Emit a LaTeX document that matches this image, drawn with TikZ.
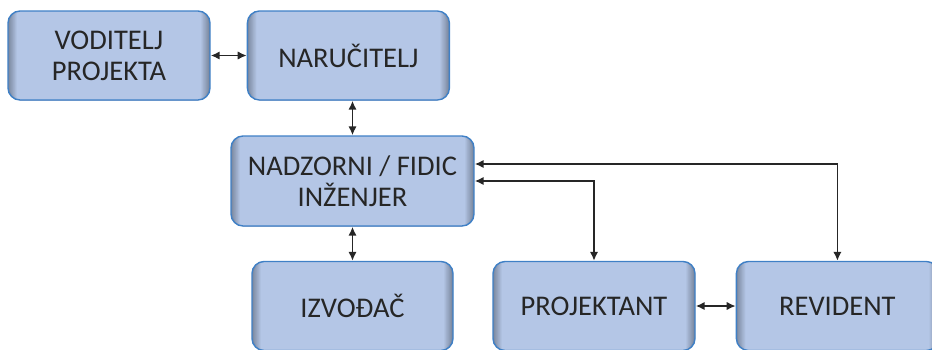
\documentclass[tikz,border=0pt]{standalone}
\usepackage{fontspec}
\setmainfont{Carlito}
\usetikzlibrary{arrows.meta,calc,positioning}
\definecolor{boxfill}{HTML}{B4C6E6}
\definecolor{boxshade}{HTML}{7A879E}
\definecolor{boxline}{HTML}{3F80C6}
\definecolor{txt}{HTML}{262626}
\tikzset{actor/.style={draw=boxline,line width=1.4pt,rounded corners=12pt,fill=boxfill,align=center,
    minimum width=202pt,minimum height=89pt,inner sep=0pt,text=txt,font=\fontsize{28.5}{31}\selectfont,
    path picture={\foreach \k [evaluate=\k as \p using int(100*\k/10)] in {0,...,10}
      \fill[boxfill!\p!boxshade,rounded corners=12pt]
        ($(path picture bounding box.south west)+(\k*0.9pt,-\k*0.9pt)$) rectangle
        ($(path picture bounding box.north east)-(\k*0.9pt,-\k*0.9pt)$);}},
  link/.style={{Latex[length=9pt,width=8.5pt]}-{Latex[length=9pt,width=8.5pt]},line width=1.8pt,black!85}}
\begin{document}
\begin{tikzpicture}[x=1pt,y=-1pt]
\useasboundingbox (0,0) rectangle (932,349);
\clip (0,0) rectangle (932,349);
% boxes
\node[actor] (vod) at (109,55.5) {VODITELJ\\PROJEKTA};
\node[actor,right=36pt of vod] (nar) {NARUČITELJ};
\node[actor,minimum width=243pt,minimum height=90pt] (nadz) at (352.5,181) {NADZORNI / FIDIC\\INŽENJER};
\node[actor,minimum width=201pt] (izv) at (352.5,306) {IZVOĐAČ};
\node[actor] (proj) at (594,306) {PROJEKTANT};
\node[actor,right=40pt of proj] (rev) {REVIDENT};
% links
\coordinate (nadzhi) at ($(nadz.east)+(0,-17)$);
\draw[link] (vod) -- (nar);
\draw[link] (nadz.north |- nar.south) -- (nadz.north);
\draw[link] (nadz) -- (izv);
\draw[link] (nadz.east) -| (proj.north);
\draw[link] (nadzhi) -| (rev.north);
\draw[link] (proj) -- (rev);
\end{tikzpicture}
\end{document}
